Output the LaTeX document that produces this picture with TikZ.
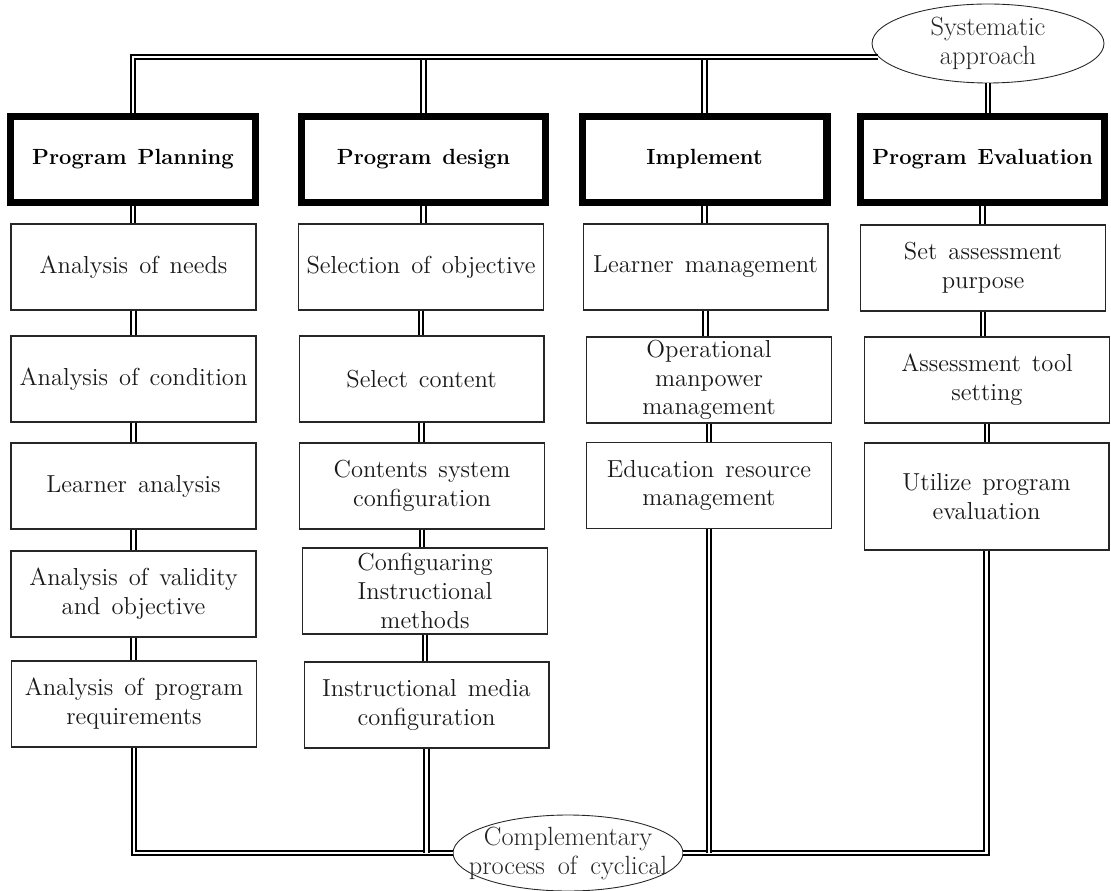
\documentclass[tikz,border=0pt]{standalone}
\usepackage{fontspec}
\usepackage{tikz}
\usetikzlibrary{shapes.geometric}

\begin{document}
\begin{tikzpicture}[x=0.02cm,y=-0.02cm,
  head/.style={draw,line width=4pt,minimum width=4.9cm,minimum height=1.72cm,inner sep=0pt,font={\fontsize{12.5}{15}\selectfont\bfseries\spaceskip=0.5em\relax}},
  item/.style={draw=black!85,line width=0.6pt,minimum width=4.9cm,minimum height=1.72cm,inner sep=0pt,align=center,text=black!90,font={\fontsize{14}{16.4}\selectfont\addfontfeatures{LetterSpace=4}\spaceskip=0.45em\relax}},
  oval/.style={draw=black!85,line width=0.5pt,ellipse,fill=white,inner sep=0pt,align=center,text=black!85,font={\fontsize{15}{16.5}\selectfont\addfontfeatures{LetterSpace=10}\spaceskip=0.5em\relax}},
  link/.style={double,double distance=1.5pt,line width=1pt}]
\useasboundingbox (0,0) rectangle (1111,891);

\node[head] (h1) at (133,159.5) {Program Planning};
\node[head] (h2) at (423.5,159.5) {Program design};
\node[head] (h3) at (704.5,159.5) {Implement};
\node[head,minimum width=4.88cm] (h4) at (982.5,159.5) {Program Evaluation};

\node[item] (a1) at (133.5,267) {Analysis of needs};
\node[item] (a2) at (133.5,379) {Analysis of condition};
\node[item] (a3) at (133.5,486) {Learner analysis};
\node[item] (a4) at (133.5,594) {Analysis of validity\\and objective};
\node[item] (a5) at (134,704) {Analysis of program\\requirements};

\node[item] (b1) at (421,267) {Selection of objective};
\node[item] (b2) at (421.5,379) {Select content};
\node[item] (b3) at (422,486) {Contents system\\configuration};
\node[item] (b4) at (425,591) {Configuaring\\Instructional\\methods};
\node[item] (b5) at (426.5,705) {Instructional media\\configuration};

\node[item] (c1) at (705.5,267) {Learner management};
\node[item] (c2) at (709,380) {Operational\\manpower\\management};
\node[item] (c3) at (709,485.5) {Education resource\\management};

\node[item] (d1) at (983,268) {Set assessment\\purpose};
\node[item] (d2) at (987,380) {Assessment tool\\setting};
\node[item,minimum height=2.14cm] (d3) at (986.5,496.5) {Utilize program\\evaluation};

\node[oval,minimum width=4.64cm,minimum height=1.58cm] (sys) at (988,43.5) {Systematic\\approach};
\node[oval,minimum width=4.6cm,minimum height=1.52cm] (cyc) at (568,853) {\makebox[0pt]{Complementary}\\\makebox[0pt]{process of cyclical}};

\foreach \u/\v in {h1/a1,a1/a2,a2/a3,a3/a4,a4/a5,h2/b1,b1/b2,b2/b3,b3/b4,b4/b5,h3/c1,c1/c2,c2/c3,h4/d1,d1/d2,d2/d3}
  \draw[link] (\u.south) -- (\u.south |- \v.north);

\draw[link] (h2.north) -- (h2.north |- sys.187);
\draw[link] (h3.north) -- (h3.north |- sys.187);
\draw[link] (h1.north) |- (sys.187);
\draw[link] (sys.south) -- (sys.south |- h4.north);

\draw[link] (a5.south) |- (cyc.west);
\draw[link] (d3.south) |- (cyc.east);
\draw[link] (b5.south) -- (b5.south |- cyc.west);
\draw[link] (c3.south) -- (c3.south |- cyc.east);
\end{tikzpicture}
\end{document}
